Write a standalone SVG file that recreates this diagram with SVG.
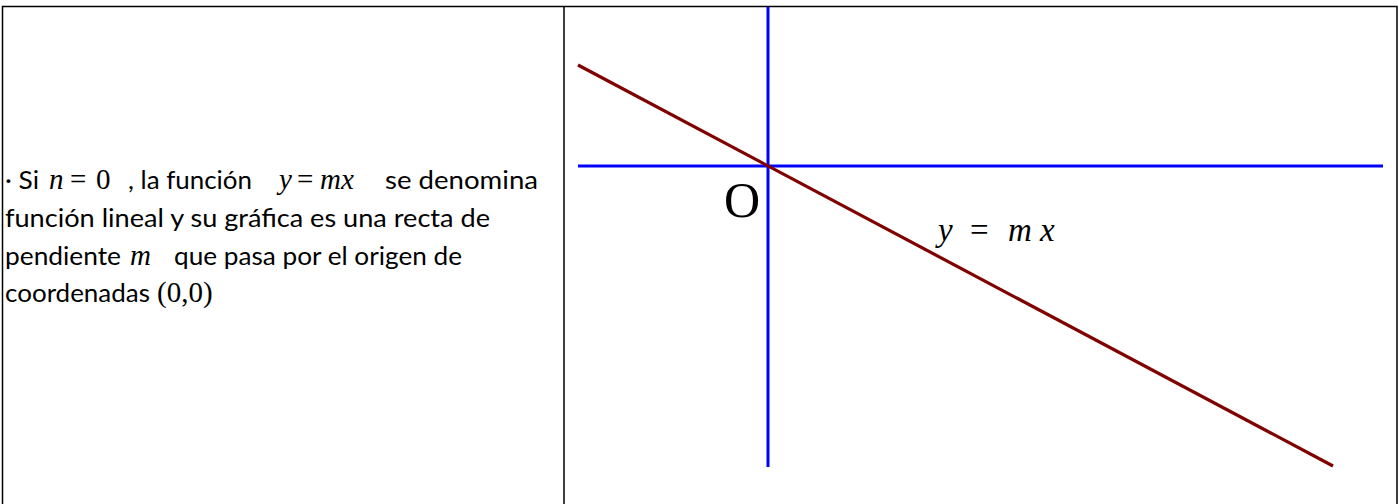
<svg xmlns="http://www.w3.org/2000/svg" width="1399" height="504" viewBox="0 0 1399 504">
<style>
.t{font-family:Lato,"Open Sans","Liberation Sans",sans-serif;font-size:25px;fill:#000}
.m{font-family:"Liberation Serif","Times New Roman",serif;font-size:29px;fill:#000}
.mi{font-family:"Liberation Serif","Times New Roman",serif;font-size:29px;font-style:italic;fill:#000}
.frame{stroke:#000;stroke-width:1.5;fill:none}
.axis{stroke:#0000FF;stroke-width:3;fill:none}
.fn{stroke:#800000;stroke-width:3.2;fill:none}
</style>
<rect width="1399" height="504" fill="#fff"/>
<g id="table">
<path class="frame" d="M2.5 520 V6.5 H1397 V520 M564 6.5 V520"/>
</g>
<g id="text">
<text class="t" x="5" y="189" textLength="34" lengthAdjust="spacingAndGlyphs">· Si</text>
<text class="mi" x="49" y="189">n</text>
<text class="m" x="70" y="189">=</text>
<text class="m" x="96" y="189">0</text>
<text class="t" x="128" y="189" textLength="124" lengthAdjust="spacingAndGlyphs">, la función</text>
<text class="mi" x="279" y="189">y</text>
<text class="m" x="297" y="189">=</text>
<text class="mi" x="320" y="189">mx</text>
<text class="t" x="385" y="189" textLength="153" lengthAdjust="spacingAndGlyphs">se denomina</text>
<text class="t" x="5" y="227" textLength="485" lengthAdjust="spacingAndGlyphs">función lineal y su gráfica es una recta de</text>
<text class="t" x="5" y="265" textLength="116" lengthAdjust="spacingAndGlyphs">pendiente</text>
<text class="mi" x="130" y="265">m</text>
<text class="t" x="174" y="265" textLength="288" lengthAdjust="spacingAndGlyphs">que pasa por el origen de</text>
<text class="t" x="5" y="302" textLength="145" lengthAdjust="spacingAndGlyphs">coordenadas</text>
<text class="m" x="157" y="302">(0,0)</text>
</g>
<g id="graph">
<line class="axis" x1="768" y1="7" x2="768" y2="467"/>
<line class="axis" x1="578" y1="166" x2="1383" y2="166"/>
<line class="fn" x1="578" y1="65" x2="1333" y2="466"/>
<text class="m" x="724" y="217" style="font-size:50px">O</text>
<text class="mi" x="938" y="241" style="font-size:33px">y</text>
<text class="m" x="970" y="241" style="font-size:33px">=</text>
<text class="mi" x="1008" y="241" style="font-size:33px">m</text>
<text class="mi" x="1040" y="241" style="font-size:33px">x</text>
</g>
</svg>
